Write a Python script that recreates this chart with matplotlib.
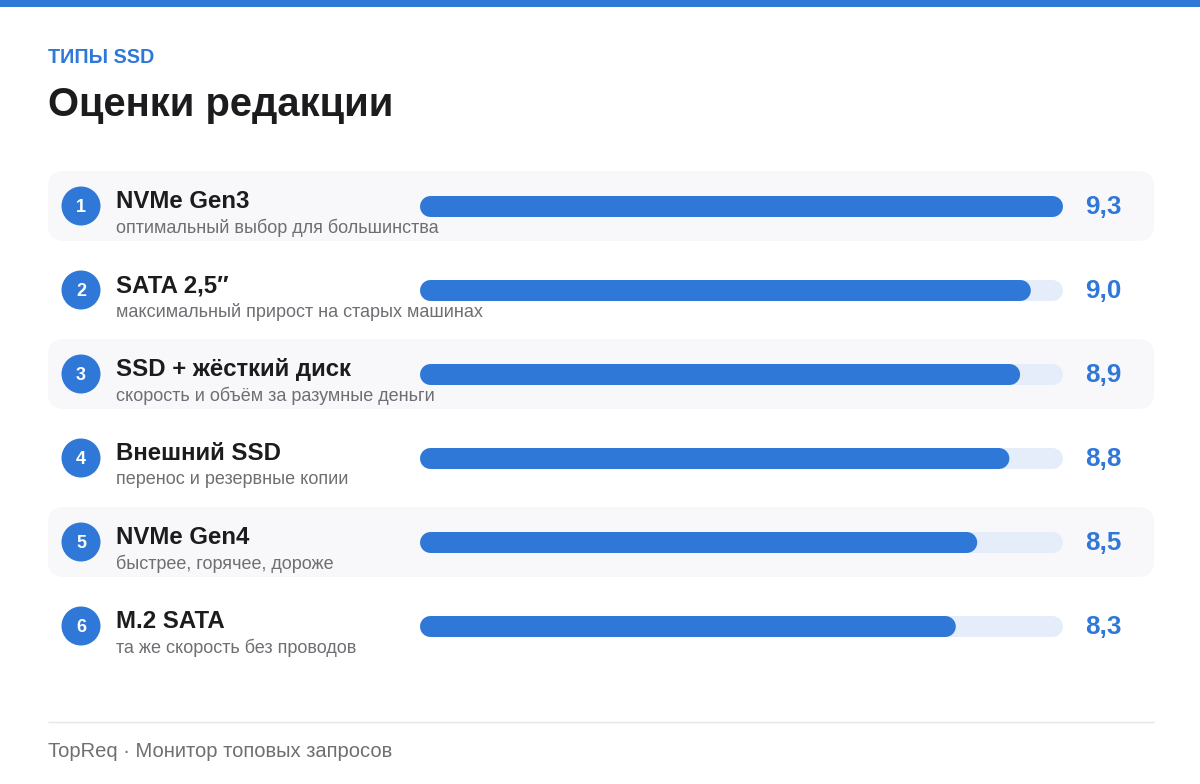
import matplotlib
matplotlib.use('Agg')
import matplotlib.pyplot as plt
from matplotlib.patches import FancyBboxPatch, Circle, Rectangle

plt.rcParams['font.family'] = ['Liberation Sans', 'DejaVu Sans']

kicker = 'ТИПЫ SSD'
title = 'Оценки редакции'
footer = 'TopReq · Монитор топовых запросов'

names = ['NVMe Gen3', 'SATA 2,5″', 'SSD + жёсткий диск', 'Внешний SSD', 'NVMe Gen4', 'M.2 SATA']
notes = ['оптимальный выбор для большинства', 'максимальный прирост на старых машинах',
         'скорость и объём за разумные деньги', 'перенос и резервные копии',
         'быстрее, горячее, дороже', 'та же скорость без проводов']
scores = [9.3, 9.0, 8.9, 8.8, 8.5, 8.3]
score_labels = ['9,3', '9,0', '8,9', '8,8', '8,5', '8,3']

BLUE = '#2F78D8'
TRACK = '#E4EDF9'
BAND = '#F8F8FB'
DARK = '#1C1C1E'
GREY = '#6E6E73'
W, H = 1200, 784


def pt(px):
    return px * 0.72


fig = plt.figure(figsize=(W / 100, H / 100), dpi=100, facecolor='white')

# page layer, in pixels from the top left
page = fig.add_axes([0, 0, 1, 1])
page.set_xlim(0, W)
page.set_ylim(H, 0)
page.axis('off')

page.add_patch(Rectangle((0, 0), W, 7, fc=BLUE, ec='none'))
page.text(48, 55.5, kicker, color=BLUE, fontsize=pt(19.8), fontweight='bold', va='center_baseline')
page.text(48, 101, title, color=DARK, fontsize=pt(40), fontweight='bold', va='center_baseline')

row_y = [206 + 84 * i for i in range(len(names))]
for i, y in enumerate(row_y):
    if i % 2 == 0:
        page.add_patch(FancyBboxPatch((48 + 16, y - 35 + 16), 1106 - 32, 70 - 32,
                                      boxstyle='round,pad=16,rounding_size=16', fc=BAND, ec='none'))
    page.add_patch(Circle((81, y), 19.5, fc=BLUE, ec='none'))
    page.text(81, y - 0.5, str(i + 1), color='white', fontsize=pt(18), fontweight='bold',
              ha='center', va='center_baseline')
    page.text(116, y - 7, names[i], color=DARK, fontsize=pt(24), fontweight='bold', va='center_baseline')
    page.text(116, y + 19.5, notes[i], color=GREY, fontsize=pt(18), va='center_baseline')
    page.text(1085.5, y - 1.5, score_labels[i], color=BLUE, fontsize=pt(26), fontweight='bold',
              va='center_baseline')

page.plot([48, 1153.5], [722, 722], color='#E5E5EA', lw=1, solid_capstyle='butt')
page.text(48, 749.5, footer, color=GREY, fontsize=pt(20.15), va='center_baseline')

# bar layer: x is the score, y is the row
bars = fig.add_axes([420 / W, 1 - (206.5 + 84 * 5.5) / H, 643 / W, 84 * 6 / H], facecolor='none')
score_start = 3.3
bars.set_xlim(score_start, max(scores))
bars.set_ylim(5.5, -0.5)
bars.axis('off')

# round caps stick out by half the line width, so pull the ends in by that much
cap = 10.5 / (643 / (max(scores) - score_start))
for row, score in enumerate(scores):
    bars.plot([score_start + cap, max(scores) - cap], [row, row], color=TRACK, lw=pt(21),
              solid_capstyle='round', zorder=2, clip_on=False, snap=False)
    bars.plot([score_start + cap, score - cap], [row, row], color=BLUE, lw=pt(21),
              solid_capstyle='round', zorder=3, clip_on=False, snap=False)

fig.savefig('out.png', dpi=100, facecolor='white')
